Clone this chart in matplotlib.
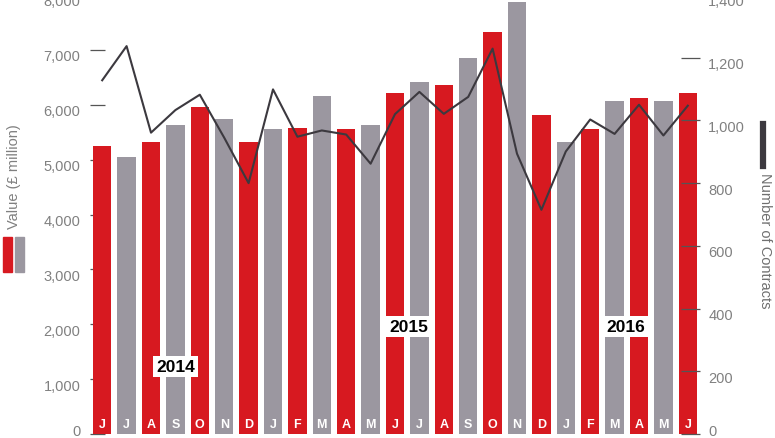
import numpy as np
import matplotlib.pyplot as plt
import matplotlib.transforms as mtransforms

plt.rcParams['font.family'] = ['Liberation Sans', 'DejaVu Sans']

# ---- data ----
months = ['J', 'J', 'A', 'S', 'O', 'N', 'D',
          'J', 'F', 'M', 'A', 'M', 'J', 'J', 'A', 'S', 'O', 'N', 'D',
          'J', 'F', 'M', 'A', 'M', 'J']
value_gbp_m = [5240, 5050, 5330, 5630, 5950, 5740, 5330,
               5550, 5580, 6160, 5550, 5630, 6210, 6420, 6360, 6850, 7320, 7870, 5810,
               5330, 5550, 6060, 6120, 6060, 6210]
contracts = [1128, 1237, 961, 1033, 1082, 945, 800,
             1099, 948, 968, 955, 862, 1020, 1091, 1021, 1075, 1229, 894, 715,
             901, 1003, 957, 1050, 952, 1047]
years = ['2014', '2015', '2016']
year_pos = [3.0, 12.55, 21.45]   # bar index where the year tag sits
year_val = [1230, 1960, 1960]    # height (left-axis units) of the year tag

red = '#d71920'
grey = '#9b97a0'
line_col = '#3c393f'
txt_col = '#808080'

fig = plt.figure(figsize=(7.75, 4.39), dpi=100)
ax = fig.add_axes([90 / 775, 4 / 439, 610 / 775, 439 / 439])

x = np.arange(len(months))
colors = [red if i % 2 == 0 else grey for i in range(len(months))]
ax.bar(x, value_gbp_m, width=0.76, color=colors, zorder=2)

# month letters at the foot of each bar
for i, m in enumerate(months):
    ax.text(i, 185, m, ha='center', va='center', color='white',
            fontsize=9, fontweight='bold', zorder=4)

# year tags
for xp, yv, yr in zip(year_pos, year_val, years):
    ax.text(xp, yv, yr, ha='center', va='center',
            fontsize=12.5, fontweight='bold', color='black', zorder=5,
            bbox=dict(facecolor='white', edgecolor='none', pad=2))

ax.set_xlim(-0.5, len(months) - 0.5)
ax.set_ylim(0, 8000)
ax.set_yticks(range(0, 8001, 1000))
ax.set_yticklabels([f'{v:,}' for v in range(0, 8001, 1000)])
ax.set_xticks([])
for s in ax.spines.values():
    s.set_visible(False)
ax.tick_params(axis='y', direction='in', length=11, width=0.9, color='#555555',
               labelcolor=txt_col, labelsize=10.5, pad=7)

# number of contracts on the right axis
ax2 = ax.twinx()
ax2.plot(x, contracts, color=line_col, linewidth=1.5, zorder=3)
ax2.set_ylim(0, 1400)
ax2.set_yticks(range(0, 1401, 200))
ax2.set_yticklabels([f'{v:,}' for v in range(0, 1401, 200)])
for s in ax2.spines.values():
    s.set_visible(False)
ax2.tick_params(axis='y', direction='in', length=14, width=0.9, color='#555555',
                labelcolor=txt_col, labelsize=10.5, pad=6)

# labels sit a little below their ticks; the zero label sits a little above
down = mtransforms.ScaledTranslation(0, -0.05, fig.dpi_scale_trans)
up = mtransforms.ScaledTranslation(0, 0.04, fig.dpi_scale_trans)
for tk in ax.yaxis.get_major_ticks():
    shift = up if tk.get_loc() == 0 else down
    tk.label1.set_transform(tk.label1.get_transform() + shift)
for tk in ax2.yaxis.get_major_ticks():
    shift = up if tk.get_loc() == 0 else down
    tk.label2.set_transform(tk.label2.get_transform() + shift)

# left axis title with swatches
fig.text(14 / 775, 1 - 177 / 439, 'Value (£ million)', rotation=90,
         ha='center', va='center', color=txt_col, fontsize=10.5)
fig.patches.append(plt.Rectangle((3 / 775, 1 - 273 / 439), 9 / 775, 35 / 439,
                                 transform=fig.transFigure, color=red))
fig.patches.append(plt.Rectangle((15 / 775, 1 - 273 / 439), 9 / 775, 35 / 439,
                                 transform=fig.transFigure, color=grey))

# right axis title with line key
fig.text(765 / 775, 1 - 241 / 439, 'Number of Contracts', rotation=270,
         ha='center', va='center', color='#6f6f6f', fontsize=10.5)
fig.lines.append(plt.Line2D([763 / 775, 763 / 775], [1 - 125 / 439, 1 - 167 / 439],
                            transform=fig.transFigure, color=line_col, linewidth=4.5))

fig.savefig('out.png', dpi=100)
